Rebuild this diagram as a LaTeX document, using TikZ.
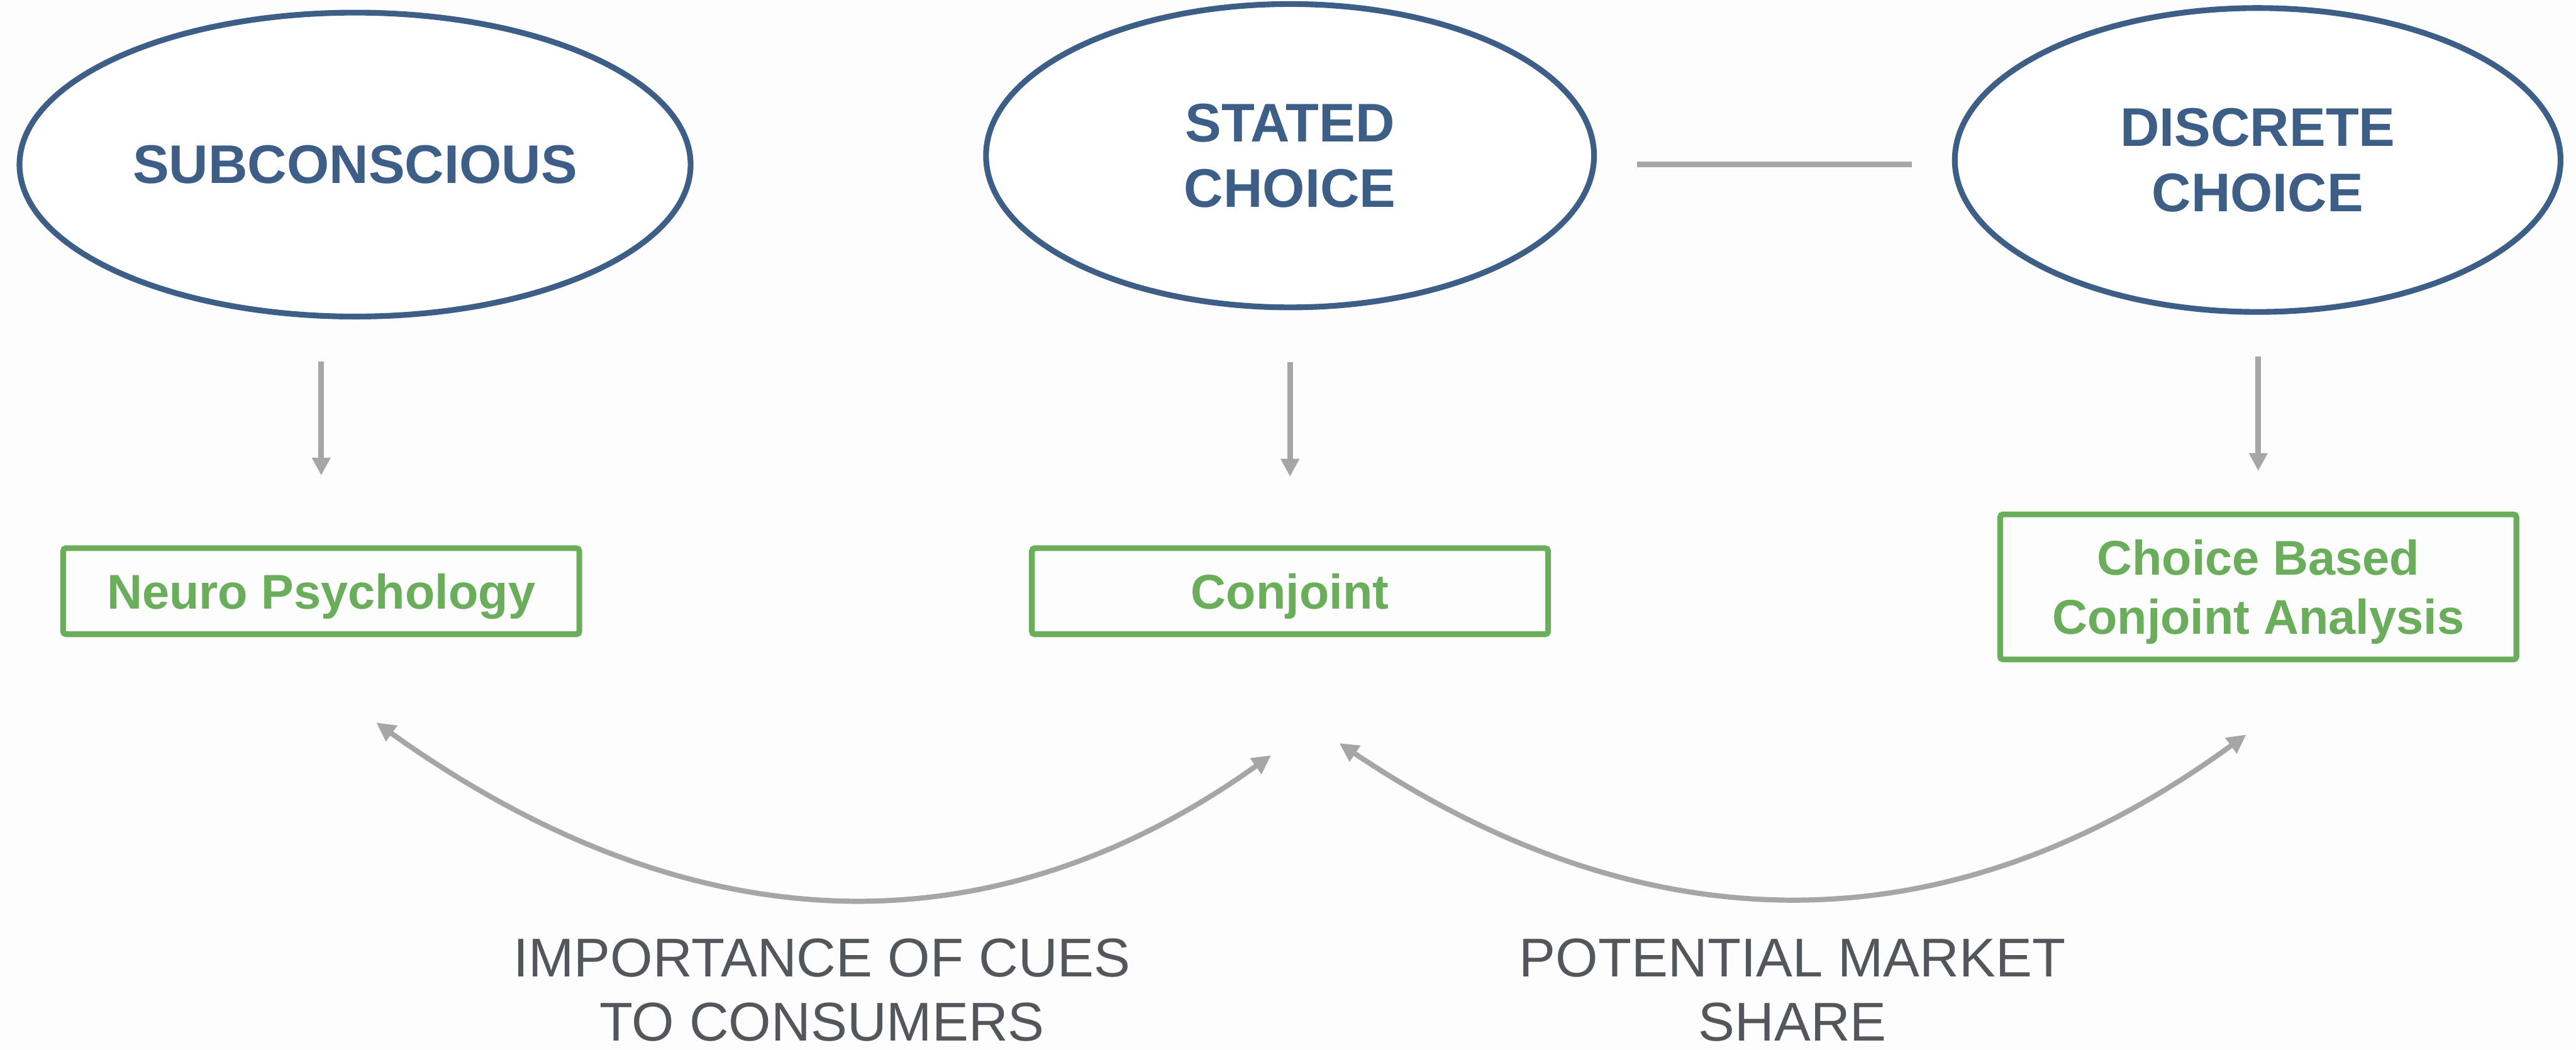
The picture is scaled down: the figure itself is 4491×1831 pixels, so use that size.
\documentclass[tikz,border=0pt]{standalone}
\usepackage{fontspec}
\setmainfont{Liberation Sans}
\usetikzlibrary{shapes.geometric,arrows.meta,calc}
\definecolor{cblue}{HTML}{3D5F87}
\definecolor{cgreen}{HTML}{6AAD5A}
\definecolor{cgray}{HTML}{A6A6A6}
\definecolor{ctext}{HTML}{53575C}
\definecolor{cbg}{HTML}{FDFDFD}
\begin{document}
\begin{tikzpicture}[x=0.1mm,y=-0.1mm,
  ell/.style={ellipse, draw=cblue, fill=white, line width=1mm, inner sep=0pt,
    text=cblue, font=\bfseries\fontsize{27}{32.6}\selectfont, align=center},
  gbox/.style={rectangle, draw=cgreen, line width=1mm, rounded corners=0.5mm,
    minimum width=90mm, inner sep=0pt, text=cgreen,
    font=\bfseries\fontsize{24.2}{29.3}\selectfont, align=center, text depth=0pt},
  arr/.style={draw=cgray, line width=1mm, -{Triangle[length=3.1mm,width=3.1mm]}},
  dbl/.style={draw=cgray, line width=0.9mm,
    {Triangle[length=3.3mm,width=3.2mm]}-{Triangle[length=3.3mm,width=3.2mm]}},
  lbl/.style={text=ctext, font=\fontsize{27.1}{32.1}\selectfont, align=center,
    text depth=0pt, inner sep=0pt}
]
\fill[cbg] (0,0) rectangle (4491,1831);
\useasboundingbox (0,0) rectangle (4491,1831);

% ellipses
\node[ell, minimum width=117mm, minimum height=53mm] (sub) at (619,287) {SUBCONSCIOUS};
\node[ell, minimum width=106mm, minimum height=52.9mm] (st) at (2249,271.5) {STATED\\CHOICE};
\node[ell, minimum width=105.6mm, minimum height=53mm] (dc) at (3936,279) {DISCRETE\\CHOICE};

% boxes
\node[gbox, minimum height=15mm] (np) at (560,1031) {Neuro Psychology};
\node[gbox, minimum height=15mm] (cj) at (2249,1031) {Conjoint};
\node[gbox, minimum height=25.3mm] (cb) at (3937,1023.5) {Choice Based\\Conjoint Analysis};

% labels
\node[lbl] (l1) at (1433,1726) {IMPORTANCE OF CUES\\TO CONSUMERS};
\node[lbl] (l2) at (3125,1726) {POTENTIAL MARKET\\SHARE};

% connector between stated and discrete
\coordinate (la) at (2854,287);
\coordinate (lb) at (3333,287);
\draw[cgray, line width=1mm] (la) -- (lb);

% down arrows
\draw[arr] ($(np.north)+(0,-321)$) -- ($(np.north)+(0,-122)$);
\draw[arr] ($(cj.north)+(0,-320)$) -- ($(cj.north)+(0,-120)$);
\draw[arr] ($(cb.north)+(0,-270)$) -- ($(cb.north)+(0,-71)$);

% curved double arrows
\draw[dbl] ($(np.south)+(96,149)$) .. controls (1244,1680) and (1764,1640) .. ($(cj.south)+(-33,206)$);
\draw[dbl] ($(cj.south)+(86,185)$) .. controls (2877,1660) and (3404,1655) .. ($(cb.south)+(-21,126)$);
\end{tikzpicture}
\end{document}
